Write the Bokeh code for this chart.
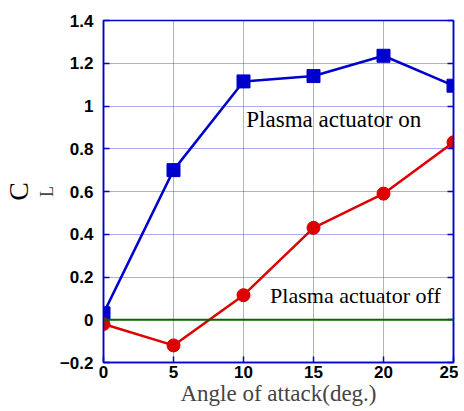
from bokeh.plotting import figure
from bokeh.models import Range1d, LinearAxis, Label, FixedTicker, Span, Title
from bokeh.embed import file_html
from bokeh.resources import INLINE

angles = [0, 5, 10, 15, 20, 25]
cl_on = [0.03, 0.70, 1.115, 1.14, 1.235, 1.095]
cl_off = [-0.02, -0.12, 0.115, 0.43, 0.59, 0.83]
x_ticks = [0, 5, 10, 15, 20, 25]
y_ticks = [-0.2, 0, 0.2, 0.4, 0.6, 0.8, 1.0, 1.2, 1.4]
y_tick_labels = {-0.2: "\u22120.2", 0: "0", 0.2: "0.2", 0.4: "0.4", 0.6: "0.6",
                 0.8: "0.8", 1.0: "1", 1.2: "1.2", 1.4: "1.4"}

BLUE = "#0000cc"
RED = "#dd0000"

p = figure(width=458, height=408, output_backend="svg", toolbar_location=None,
           x_range=Range1d(0, 25), y_range=Range1d(-0.2, 1.4),
           min_border_left=102, min_border_right=5, min_border_top=20, min_border_bottom=45)
p.outline_line_color = BLUE
p.outline_line_width = 1.5
p.background_fill_color = "white"
p.border_fill_color = "white"

for ax in (p.xaxis[0], p.yaxis[0]):
    ax.axis_line_color = BLUE
    ax.axis_line_width = 1.5
    ax.major_tick_line_color = BLUE
    ax.major_tick_line_width = 1.5
    ax.major_tick_in = 6
    ax.major_tick_out = 0
    ax.minor_tick_line_color = None
    ax.major_label_text_font = "Liberation Sans"
    ax.major_label_text_font_style = "bold"
    ax.major_label_text_font_size = "17px"
    ax.major_label_text_color = "black"

p.xaxis.ticker = FixedTicker(ticks=x_ticks)
p.yaxis.ticker = FixedTicker(ticks=y_ticks)
p.yaxis.major_label_overrides = y_tick_labels
p.xaxis.major_label_standoff = 3
p.yaxis.major_label_standoff = 10
p.xaxis.axis_label = "Angle of attack(deg.)"
p.xaxis.axis_label_text_font = "Liberation Serif"
p.xaxis.axis_label_text_font_style = "normal"
p.xaxis.axis_label_text_font_size = "23px"
p.xaxis.axis_label_standoff = 0

# y label C_L: subscript "L" as the axis label, "C" as a left-side title next to it
p.yaxis.axis_label = "L"
p.yaxis.axis_label_text_font = "Liberation Serif"
p.yaxis.axis_label_text_font_style = "normal"
p.yaxis.axis_label_text_font_size = "18px"
p.yaxis.axis_label_standoff = 0

p.add_layout(Title(text="C", text_font="Liberation Serif", text_font_size="28px",
                   text_font_style="normal", align="center", standoff=0,
                   text_color="black"), "left")

right = LinearAxis(ticker=FixedTicker(ticks=y_ticks), major_label_text_font_size="0px",
                   axis_line_color=BLUE, axis_line_width=1.5, major_tick_line_color=BLUE,
                   major_tick_line_width=1.5, major_tick_in=6, major_tick_out=0,
                   minor_tick_line_color=None, major_label_standoff=0)
p.add_layout(right, "right")

p.xgrid.ticker = FixedTicker(ticks=x_ticks)
p.ygrid.ticker = FixedTicker(ticks=y_ticks)
for g in (p.xgrid[0], p.ygrid[0]):
    g.grid_line_color = "#5555ee"
    g.grid_line_dash = "1 1"
    g.grid_line_width = 1

p.add_layout(Span(location=0, dimension="width", line_color="#006600", line_width=2))

p.line(angles, cl_on, line_color=BLUE, line_width=2.5)
p.scatter(angles, cl_on, marker="square", size=13, fill_color=BLUE, line_color=BLUE)
p.line(angles, cl_off, line_color=RED, line_width=2.5)
p.scatter(angles, cl_off, marker="circle", size=13, fill_color=RED, line_color=RED)

p.add_layout(Label(x=10.2, y=0.935, text="Plasma actuator on", text_font="Liberation Serif",
                   text_font_size="23px", text_baseline="middle", text_color="black"))
p.add_layout(Label(x=11.9, y=0.115, text="Plasma actuator off", text_font="Liberation Serif",
                   text_font_size="22px", text_baseline="middle", text_color="black"))

open("out.html", "w").write(file_html(p, INLINE))
